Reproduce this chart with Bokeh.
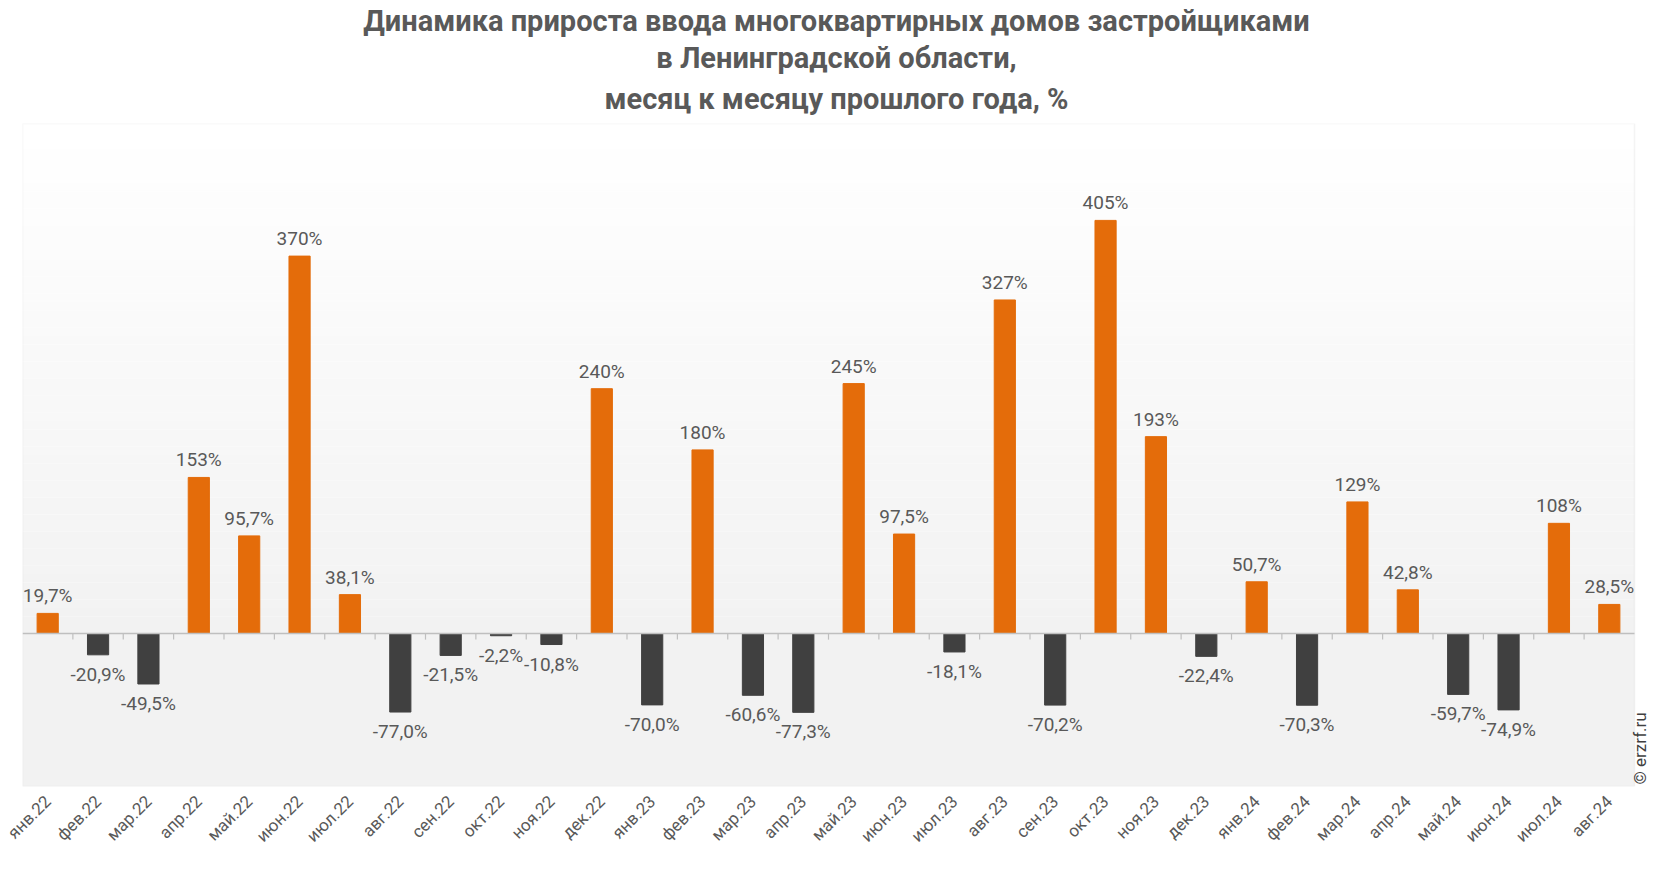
import numpy as np
from bokeh.plotting import figure
from bokeh.models import ColumnDataSource, LabelSet, BoxAnnotation, FixedTicker, Label, Range1d, Title
from bokeh.embed import file_html
from bokeh.resources import INLINE
from bokeh.core.properties import value

months = ["янв.22", "фев.22", "мар.22", "апр.22", "май.22", "июн.22", "июл.22", "авг.22",
          "сен.22", "окт.22", "ноя.22", "дек.22", "янв.23", "фев.23", "мар.23", "апр.23",
          "май.23", "июн.23", "июл.23", "авг.23", "сен.23", "окт.23", "ноя.23", "дек.23",
          "янв.24", "фев.24", "мар.24", "апр.24", "май.24", "июн.24", "июл.24", "авг.24"]
growth = [19.7, -20.9, -49.5, 153, 95.7, 370, 38.1, -77.0,
          -21.5, -2.2, -10.8, 240, -70.0, 180, -60.6, -77.3,
          245, 97.5, -18.1, 327, -70.2, 405, 193, -22.4,
          50.7, -70.3, 129, 42.8, -59.7, -74.9, 108, 28.5]
labels = ["19,7%", "-20,9%", "-49,5%", "153%", "95,7%", "370%", "38,1%", "-77,0%",
          "-21,5%", "-2,2%", "-10,8%", "240%", "-70,0%", "180%", "-60,6%", "-77,3%",
          "245%", "97,5%", "-18,1%", "327%", "-70,2%", "405%", "193%", "-22,4%",
          "50,7%", "-70,3%", "129%", "42,8%", "-59,7%", "-74,9%", "108%", "28,5%"]
title_lines = ["Динамика прироста ввода многоквартирных домов застройщиками",
               "в Ленинградской области,",
               "месяц к месяцу прошлого года, %"]

ORANGE = "#E46C0A"
DARK = "#404040"
TXT = "#595959"
FONT = "Roboto"

W, H = 1650, 856
BORDER_L = 22
PAD_R = 16          # pixels between the plot-area border and the frame's right edge (watermark room)
Y_MIN, Y_MAX = -150, 500

n = len(months)
idx = np.arange(n)
vals = np.array(growth)
pos = vals >= 0
src_pos = ColumnDataSource(dict(x=idx[pos], top=vals[pos], lab=[l for l, f in zip(labels, pos) if f]))
src_neg = ColumnDataSource(dict(x=idx[~pos], top=vals[~pos], lab=[l for l, f in zip(labels, pos) if not f]))

frame_w = W - BORDER_L
cat_px = (frame_w - PAD_R) / n
x_start, x_end = -0.5, n - 0.5
p = figure(width=W, height=H, output_backend="svg", toolbar_location=None,
           x_range=Range1d(x_start, x_end + PAD_R / cat_px), y_range=Range1d(Y_MIN, Y_MAX),
           min_border_left=BORDER_L, min_border_right=0, min_border_bottom=60, min_border_top=31)

def style_title(t, standoff):
    t.align = "center"
    t.text_font = FONT
    t.text_font_size = "29px"
    t.text_font_style = "bold"
    t.text_color = TXT
    t.standoff = standoff

# first added "above" sits closest to the plot; p.title is outermost
p.title.text = title_lines[0]
style_title(p.title, 2)
t3 = Title(text=title_lines[2], vertical_align="top"); style_title(t3, 12); p.add_layout(t3, "above")
t2 = Title(text=title_lines[1]); style_title(t2, 1); p.add_layout(t2, "above")

p.background_fill_color = "white"
p.border_fill_color = "white"
p.outline_line_color = None

# plot area background: vertical gradient white (top) -> light gray (zero line), flat gray below
steps = 60
for i in range(steps):
    t = i / (steps - 1)
    c = int(round(255 - (255 - 242) * t))
    y1 = Y_MAX - Y_MAX * i / steps
    y0 = Y_MAX - Y_MAX * (i + 1) / steps
    p.add_layout(BoxAnnotation(left=x_start, right=x_end, bottom=y0, top=y1,
                               fill_color=f"#{c:02x}{c:02x}{c:02x}", fill_alpha=1.0,
                               line_alpha=0, level="underlay"))
p.add_layout(BoxAnnotation(left=x_start, right=x_end, bottom=Y_MIN, top=0, fill_color="#f2f2f2",
                           fill_alpha=1.0, line_alpha=0, level="underlay"))
p.add_layout(BoxAnnotation(left=x_start, right=x_end, bottom=Y_MIN, top=Y_MAX, fill_alpha=0,
                           line_color="#d9d9d9", line_width=1.5, level="underlay"))

p.xgrid.visible = False
p.ygrid.visible = False
p.yaxis.visible = False

p.vbar(x="x", top="top", bottom=0, width=0.42, source=src_pos, fill_color=ORANGE, line_color=ORANGE)
p.vbar(x="x", top="top", bottom=0, width=0.42, source=src_neg, fill_color=DARK, line_color=DARK)

# zero line with small tick marks between categories
p.segment(x0=[x_start], y0=[0], x1=[x_end], y1=[0], line_color="#bfbfbf", line_width=1.5)
bounds = idx[1:] - 0.5
p.segment(x0=bounds, y0=np.zeros(len(bounds)), x1=bounds, y1=np.full(len(bounds), -6.0),
          line_color="#bfbfbf", line_width=1.2)

p.add_layout(LabelSet(x="x", y="top", text="lab", source=src_pos, text_align="center",
                      text_baseline="bottom", y_offset=6, text_font=value(FONT),
                      text_font_size="19px", text_color=TXT))
p.add_layout(LabelSet(x="x", y="top", text="lab", source=src_neg, text_align="center",
                      text_baseline="top", y_offset=-8, text_font=value(FONT),
                      text_font_size="19px", text_color=TXT))

p.xaxis.ticker = FixedTicker(ticks=list(idx))
p.xaxis.major_label_overrides = {int(i): m for i, m in zip(idx, months)}
p.xaxis.major_label_orientation = np.pi / 4
p.xaxis.major_label_text_font = FONT
p.xaxis.major_label_text_font_size = "17px"
p.xaxis.major_label_text_color = TXT
p.xaxis.axis_line_color = None
p.xaxis.major_tick_line_color = None
p.xaxis.minor_tick_line_color = None
p.xaxis.major_label_standoff = 6

p.add_layout(Label(x=x_end, y=Y_MIN, x_offset=5, y_offset=2, text="© erzrf.ru",
                   angle=np.pi / 2, text_font=FONT, text_font_size="17px", text_color="#404040",
                   text_baseline="middle", text_align="left"))

open("out.html", "w").write(file_html(p, INLINE))
